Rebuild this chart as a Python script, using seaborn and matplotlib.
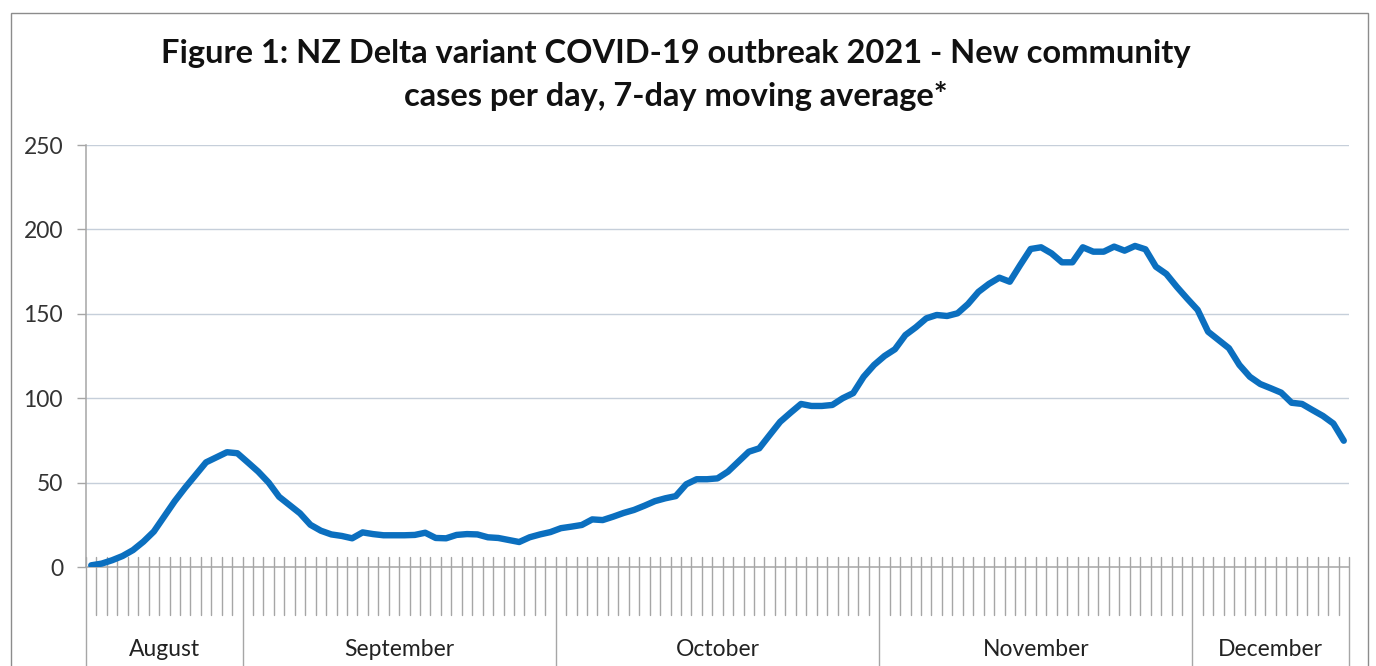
import numpy as np
import pandas as pd
import matplotlib
matplotlib.use("Agg")
import matplotlib.pyplot as plt
import matplotlib.transforms as mtransforms
from matplotlib.patches import Rectangle
import seaborn as sns

# ---- data (7-day moving average of new community cases) ----
months = ["August", "September", "October", "November", "December"]
aug_vals = [1, 2, 4, 6.5, 10, 15, 21, 30, 39, 47, 54.5, 62, 65, 68, 67.4]  # Aug 17-31
sep_vals = [62, 56.5, 50, 41.6, 36.7, 31.8, 25, 21.5, 19.3, 18.4, 17, 20.5, 19.5, 18.8, 18.8,
            18.8, 19, 20.3, 17.2, 17, 19, 19.5, 19.3, 17.6, 17.2, 16, 14.8, 17.6, 19.3, 20.7]
oct_vals = [23, 23.9, 24.9, 28.2, 27.8, 29.8, 32, 33.8, 36.3, 39, 40.7, 42, 49, 52, 52, 52.5,
            56.5, 62.4, 68.3, 70.3, 78.2, 86, 91.4, 96.6, 95.4, 95.4, 96, 100, 103, 112.7, 119.7]
nov_vals = [125, 129, 137.4, 142, 147.3, 149.3, 148.7, 150.3, 155.8, 163, 167.7, 171.4, 169,
            178.9, 188.4, 189.4, 185.8, 180.5, 180.5, 189.4, 186.8, 186.8, 189.8, 187.4, 190.2,
            188.2, 177.9, 173.6, 166, 159]
dec_vals = [152.3, 139.4, 134.5, 129.6, 119.7, 112.7, 108.4, 105.9, 103.3, 97.3, 96.6, 93,
            89.5, 85, 74.8]  # Dec 1-15
month_values = [aug_vals, sep_vals, oct_vals, nov_vals, dec_vals]
y_ticks = [0, 50, 100, 150, 200, 250]
title_text = ("Figure 1: NZ Delta variant COVID-19 outbreak 2021 - New community\n"
              "cases per day, 7-day moving average*")

values = [v for m in month_values for v in m]
month_of = [mn for mn, m in zip(months, month_values) for _ in m]
df = pd.DataFrame({"day": np.arange(len(values)), "cases": values, "month": month_of})

# ---- style ----
sns.set_theme(style="white")
plt.rcParams["font.family"] = ["Lato", "DejaVu Sans"]

W, H = 1376, 666
fig = plt.figure(figsize=(W / 100, H / 100), dpi=100)
fig.patch.set_facecolor("white")

ax_l, ax_r, ax_t, ax_b = 86, 1349, 145, 567
ax = fig.add_axes([ax_l / W, (H - ax_b) / H, (ax_r - ax_l) / W, (ax_b - ax_t) / H])

sns.lineplot(data=df, x="day", y="cases", ax=ax, color="#0B6FBF", linewidth=4.6,
             solid_joinstyle="round", solid_capstyle="round", zorder=5)

n = len(values)
ax.set_xlim(-0.5, n - 0.5)
ax.set_ylim(0, 250)
ax.set_yticks(y_ticks)
ax.set_yticklabels([str(t) for t in y_ticks], fontsize=16.5, color="#333333")
ax.set_xticks([])
ax.set_xlabel("")
ax.set_ylabel("")
for yv in y_ticks[1:]:
    ax.axhline(yv, color="#C6CFDA", linewidth=1.0, zorder=1)

grey = "#A6A6A6"
for s in ["top", "right"]:
    ax.spines[s].set_visible(False)
ax.spines["bottom"].set_color(grey)
ax.spines["left"].set_color(grey)
ax.spines["bottom"].set_linewidth(1.1)
ax.spines["left"].set_linewidth(1.1)
ax.tick_params(axis="y", length=6.5, width=1.0, color=grey, pad=10, left=True)

# ---- category axis: day ticks and month separators ----
ah = ax_b - ax_t
trans = mtransforms.blended_transform_factory(ax.transData, ax.transAxes)
tick_top = (ax_b - 557) / ah
tick_bot = (ax_b - 615) / ah
sep_bot = (ax_b - 680) / ah
boundaries = np.cumsum([0] + [len(m) for m in month_values])
for k in range(n + 1):
    xb = k - 0.5
    if k in boundaries:
        ax.plot([xb, xb], [tick_top, sep_bot], transform=trans, color=grey,
                linewidth=1.0, clip_on=False, zorder=2)
    else:
        ax.plot([xb, xb], [tick_top, tick_bot], transform=trans, color=grey,
                linewidth=1.0, clip_on=False, zorder=2)

label_y = (ax_b - 650) / ah
for mn, a, b in zip(months, boundaries[:-1], boundaries[1:]):
    ax.text((a + b - 1) / 2, label_y, mn, transform=trans, ha="center", va="center",
            fontsize=16.5, color="#222222", clip_on=False)

# ---- title ----
fig.text(676 / W, 1 - 75 / H, title_text, ha="center", va="center", fontsize=23.5,
         fontweight="bold", color="#111111", linespacing=1.55)

# ---- outer chart border ----
fig.patches.append(Rectangle((11 / W, -0.05), (1368 - 11) / W, 0.05 + (H - 13) / H,
                             transform=fig.transFigure, fill=False, edgecolor="#8C8C8C",
                             linewidth=1.0))

fig.savefig("out.png", dpi=100, facecolor="white")
